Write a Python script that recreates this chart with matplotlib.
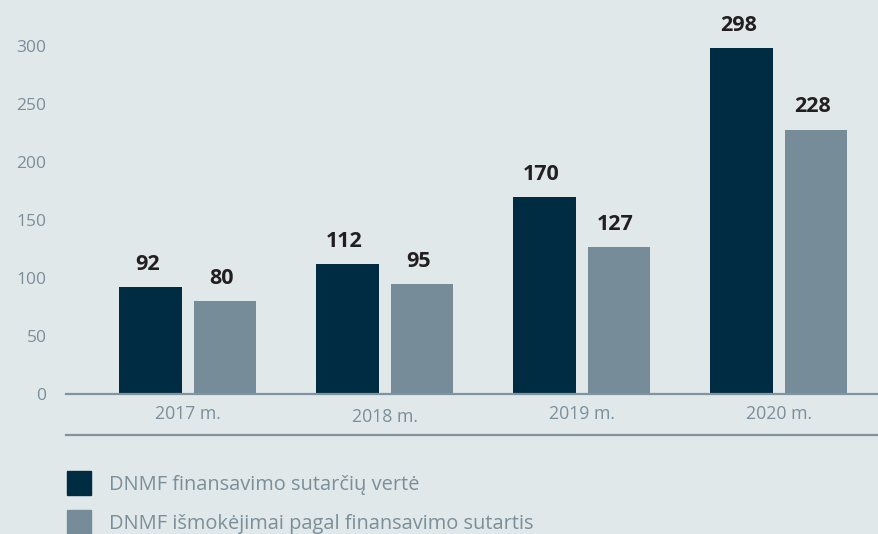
import matplotlib
matplotlib.use("Agg")
import matplotlib.pyplot as plt
from matplotlib.patches import Rectangle
from matplotlib.lines import Line2D
import numpy as np

# Data
categories = ["2017 m.", "2018 m.", "2019 m.", "2020 m."]
series_names = ["DNMF finansavimo sutarčių vertė",
                "DNMF išmokėjimai pagal finansavimo sutartis"]
contract_value = [92, 112, 170, 298]
payments = [80, 95, 127, 228]
yticks = [0, 50, 100, 150, 200, 250, 300]

BG = "#e1e8ea"
DARK = "#002c43"
GREY = "#768c98"
TXT = "#7a8f9a"
LINE = "#7f949e"
VAL = "#231f20"

plt.rcParams['font.family'] = ['Open Sans', 'DejaVu Sans']

W, H = 879, 534
fig = plt.figure(figsize=(W / 100, H / 100), dpi=100, facecolor=BG)

base_px = 394
ax = fig.add_axes([66 / W, (H - base_px) / H, 1 - 66 / W, base_px / H])
ax.set_facecolor(BG)

x = np.arange(len(categories))
width = 0.315
off = 0.188
b1 = ax.bar(x - off, contract_value, width, color=DARK, zorder=2)
b2 = ax.bar(x + off, payments, width, color=GREY, zorder=2)

for bars, vals in ((b1, contract_value), (b2, payments)):
    for r, v in zip(bars, vals):
        ax.annotate(str(v), (r.get_x() + r.get_width() / 2 - 0.015, v),
                    xytext=(0, 12.3), textcoords="offset points",
                    ha="center", va="baseline", fontsize=15.5, fontweight="bold",
                    color=VAL)

ax.set_xlim(-0.617, 3.51)
ax.set_ylim(0, base_px / 1.16)
ax.set_yticks(yticks)
ax.set_yticklabels([str(t) for t in yticks])
ax.tick_params(axis="y", length=0, pad=14, labelsize=12.5, labelcolor=TXT)
ax.set_xticks([])
for s in ax.spines.values():
    s.set_visible(False)
ax.axhline(0, color=LINE, lw=1.6, zorder=3, clip_on=False)

# x category labels
lab_y = [414, 417, 414, 414]
for xi, lab, yy in zip(x, categories, lab_y):
    xd = ax.transData.transform((xi, 0))[0]
    fig.text(xd / W, 1 - yy / H, lab, ha="center", va="center",
             fontsize=12.7, color=TXT)

# lower separator line
fig.add_artist(Line2D([66 / W, 1], [1 - 435 / H, 1 - 435 / H], color=LINE, lw=1.6))

# legend
leg_colors = [DARK, GREY]
leg_y = [483, 522]
for name, c, yy in zip(series_names, leg_colors, leg_y):
    fig.add_artist(Rectangle((67 / W, 1 - (yy + 12) / H), 24 / W, 24 / H,
                             transform=fig.transFigure, color=c))
    fig.text(109 / W, 1 - (yy + 2) / H, name, ha="left", va="center",
             fontsize=14.4, color=TXT)

fig.savefig("out.png", dpi=100, facecolor=BG)
